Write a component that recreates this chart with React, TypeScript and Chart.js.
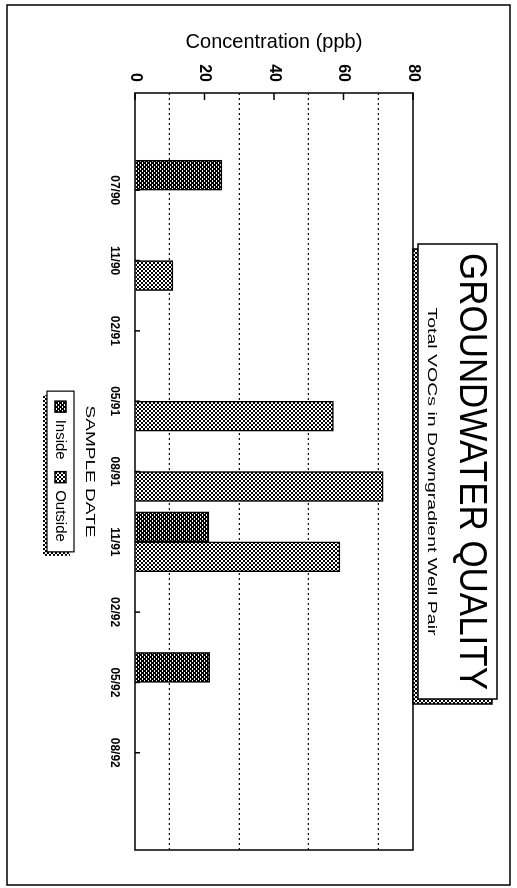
import { useEffect, useRef } from 'react';
import { Chart, registerables } from 'chart.js';

Chart.register(...registerables);

// ---- data ----
const CATEGORIES = ['07/90', '11/90', '02/91', '05/91', '08/91', '11/91', '02/92', '05/92', '08/92'];
const INSIDE: (number | null)[] = [25, null, null, null, null, 21.3, null, 21.5, null];
const OUTSIDE: (number | null)[] = [null, 10.9, null, 57.1, 71.4, 59.0, null, null, null];
const SERIES_NAMES = ['Inside', 'Outside'];
const VALUE_TICKS = [0, 20, 40, 60, 80];
const GRID_VALUES = [10, 30, 50, 70];
const TITLE = 'GROUNDWATER QUALITY';
const SUBTITLE = 'Total VOCs in Downgradient Well Pair';
const Y_TITLE = 'Concentration (ppb)';
const X_TITLE = 'SAMPLE DATE';

// ---- layout / style ----
const W = 888;
const H = 517;
const CAT_MARGIN = 0.785;
const FONT = '"Liberation Sans", Arial, Helvetica, sans-serif';

function makePattern(dark: boolean): CanvasPattern {
  const c = document.createElement('canvas');
  c.width = 4;
  c.height = 4;
  const g = c.getContext('2d')!;
  if (dark) {
    g.fillStyle = '#000';
    g.fillRect(0, 0, 4, 4);
    g.fillStyle = '#fff';
    g.fillRect(0, 0, 2, 1);
    g.fillRect(2, 2, 2, 1);
  } else {
    g.fillStyle = '#fff';
    g.fillRect(0, 0, 4, 4);
    g.fillStyle = '#000';
    g.fillRect(0, 0, 2, 2);
    g.fillRect(2, 2, 2, 2);
  }
  return g.createPattern(c, 'repeat')!;
}

function toPoints(values: (number | null)[]) {
  return values
    .map((v, i) => ({ x: i, y: v }))
    .filter((p) => p.y !== null) as { x: number; y: number }[];
}

function drawStretched(
  ctx: CanvasRenderingContext2D,
  text: string,
  cx: number,
  baseline: number,
  font: string,
  targetWidth: number
) {
  ctx.save();
  ctx.font = font;
  const w = ctx.measureText(text).width;
  ctx.translate(cx, baseline);
  ctx.scale(targetWidth / w, 1);
  ctx.textAlign = 'center';
  ctx.textBaseline = 'alphabetic';
  ctx.fillStyle = '#000';
  ctx.fillText(text, 0, 0);
  ctx.restore();
}

export default function App() {
  const ref = useRef<HTMLCanvasElement>(null);

  useEffect(() => {
    const canvas = ref.current!;
    const dark = makePattern(true);
    const light = makePattern(false);

    const decor = {
      id: 'decor',
      afterLayout(chart: any) {
        const lg = chart.legend;
        const a = chart.chartArea;
        if (lg) {
          lg.left = a.left;
          lg.right = a.right;
        }
      },
      beforeDraw(chart: any) {
        const ctx: CanvasRenderingContext2D = chart.ctx;
        ctx.save();
        ctx.fillStyle = '#fff';
        ctx.fillRect(0, 0, W, H);
        // outer frame
        ctx.strokeStyle = '#000';
        ctx.lineWidth = 1.5;
        ctx.strokeRect(5, 7, 880, 503);
        // legend box
        const lg = chart.legend;
        if (lg && lg.legendHitBoxes && lg.legendHitBoxes.length) {
          const hb = lg.legendHitBoxes;
          const l = Math.min(...hb.map((h: any) => h.left)) - 10;
          const r = Math.max(...hb.map((h: any) => h.left + h.width)) + 10;
          const t = Math.min(...hb.map((h: any) => h.top)) - 6;
          const b = Math.max(...hb.map((h: any) => h.top + h.height)) + 6;
          ctx.fillStyle = light;
          ctx.fillRect(l + 4, t + 4, r - l, b - t);
          ctx.fillStyle = '#fff';
          ctx.fillRect(l, t, r - l, b - t);
          ctx.lineWidth = 1.2;
          ctx.strokeRect(l, t, r - l, b - t);
        }
        ctx.restore();
      },
      beforeDatasetsDraw(chart: any) {
        const ctx: CanvasRenderingContext2D = chart.ctx;
        const a = chart.chartArea;
        const xs = chart.scales.x;
        ctx.save();
        ctx.strokeStyle = '#000';
        ctx.lineWidth = 1.5;
        CATEGORIES.forEach((_, i) => {
          const px = xs.getPixelForValue(i);
          ctx.beginPath();
          ctx.moveTo(px, a.bottom);
          ctx.lineTo(px, a.bottom - 5);
          ctx.stroke();
        });
        ctx.restore();
      },
      afterDraw(chart: any) {
        const ctx: CanvasRenderingContext2D = chart.ctx;
        const a = chart.chartArea;
        const ys = chart.scales.y;
        const xs = chart.scales.x;
        ctx.save();
        ctx.strokeStyle = '#000';
        ctx.lineWidth = 1.5;
        // plot frame
        ctx.strokeRect(a.left, a.top, a.right - a.left, a.bottom - a.top);
        // inward value ticks
        VALUE_TICKS.forEach((v) => {
          const py = ys.getPixelForValue(v);
          ctx.beginPath();
          ctx.moveTo(a.left, py);
          ctx.lineTo(a.left + 7, py);
          ctx.stroke();
        });
        // title box with shadow
        const cx = (a.left + a.right) / 2;
        const bw = 455;
        const bl = cx - bw / 2;
        const bt = 20;
        const bh = 79;
        ctx.fillStyle = light;
        ctx.fillRect(bl + 5, bt + 5, bw, bh);
        ctx.strokeRect(bl + 5, bt + 5, bw, bh);
        ctx.fillStyle = '#fff';
        ctx.fillRect(bl, bt, bw, bh);
        ctx.strokeRect(bl, bt, bw, bh);
        ctx.restore();
        drawStretched(ctx, TITLE, cx, 57, `38px ${FONT}`, 437);
        drawStretched(ctx, SUBTITLE, cx, 89, `13px ${FONT}`, 328);
        // category axis title
        drawStretched(ctx, X_TITLE, cx, xs.bottom - 6, `13px ${FONT}`, 132);
      },
    };

    const chart = new Chart(canvas, {
      type: 'bar',
      data: {
        datasets: [
          {
            label: SERIES_NAMES[0],
            data: toPoints(INSIDE),
            backgroundColor: dark,
            borderColor: '#000',
            borderWidth: 1.5,
            barThickness: 30,
          },
          {
            label: SERIES_NAMES[1],
            data: toPoints(OUTSIDE),
            backgroundColor: light,
            borderColor: '#000',
            borderWidth: 1.5,
            barThickness: 30,
          },
        ],
      },
      options: {
        animation: false,
        responsive: false,
        maintainAspectRatio: false,
        devicePixelRatio: 1,
        events: [],
        layout: { padding: { left: 20, right: 38, top: 104, bottom: 43 } },
        plugins: {
          tooltip: { enabled: false },
          title: { display: false },
          legend: {
            display: true,
            position: 'bottom',
            align: 'center',
            labels: {
              color: '#000',
              font: { size: 15, family: FONT },
              boxWidth: 11,
              boxHeight: 11,
              padding: 12,
            },
          },
        },
        scales: {
          x: {
            type: 'linear',
            min: -CAT_MARGIN,
            max: CATEGORIES.length - 1 + CAT_MARGIN,
            afterBuildTicks: (scale: any) => {
              scale.ticks = CATEGORIES.map((_, i) => ({ value: i }));
            },
            afterFit: (scale: any) => {
              scale.height = 55;
            },
            grid: { display: false, drawTicks: false },
            border: { display: false },
            ticks: {
              autoSkip: false,
              maxRotation: 0,
              minRotation: 0,
              padding: 13,
              color: '#000',
              font: { size: 12, family: FONT, weight: 'bold' },
              callback: (_v: any, i: number) => CATEGORIES[i],
            },
            title: { display: false, text: X_TITLE },
          },
          y: {
            type: 'linear',
            min: VALUE_TICKS[0],
            max: VALUE_TICKS[VALUE_TICKS.length - 1],
            afterBuildTicks: (scale: any) => {
              scale.ticks = [...VALUE_TICKS, ...GRID_VALUES]
                .sort((p, q) => p - q)
                .map((v) => ({ value: v }));
            },
            afterFit: (scale: any) => {
              scale.width = 73;
            },
            grid: {
              display: true,
              drawTicks: false,
              lineWidth: 1.2,
              color: (c: any) =>
                c.tick && GRID_VALUES.includes(c.tick.value) ? '#111' : 'rgba(0,0,0,0)',
            },
            border: { display: false, dash: [2, 3] },
            ticks: {
              padding: 11,
              color: '#000',
              font: { size: 16, family: FONT, weight: 'bold' },
              callback: (v: any) => (VALUE_TICKS.includes(Number(v)) ? String(v) : ''),
            },
            title: {
              display: true,
              text: Y_TITLE,
              color: '#000',
              font: { size: 20, family: FONT },
              padding: { top: 10, bottom: 0 },
            },
          },
        },
      },
      plugins: [decor],
    } as any);

    return () => chart.destroy();
  }, []);

  return (
    <div
      style={{
        position: 'fixed',
        left: 0,
        top: 0,
        width: W,
        height: H,
        transformOrigin: '0 0',
        transform: `translateX(${H}px) rotate(90deg)`,
        background: '#fff',
      }}
    >
      <canvas ref={ref} width={W} height={H} style={{ width: W, height: H, display: 'block' }} />
    </div>
  );
}
